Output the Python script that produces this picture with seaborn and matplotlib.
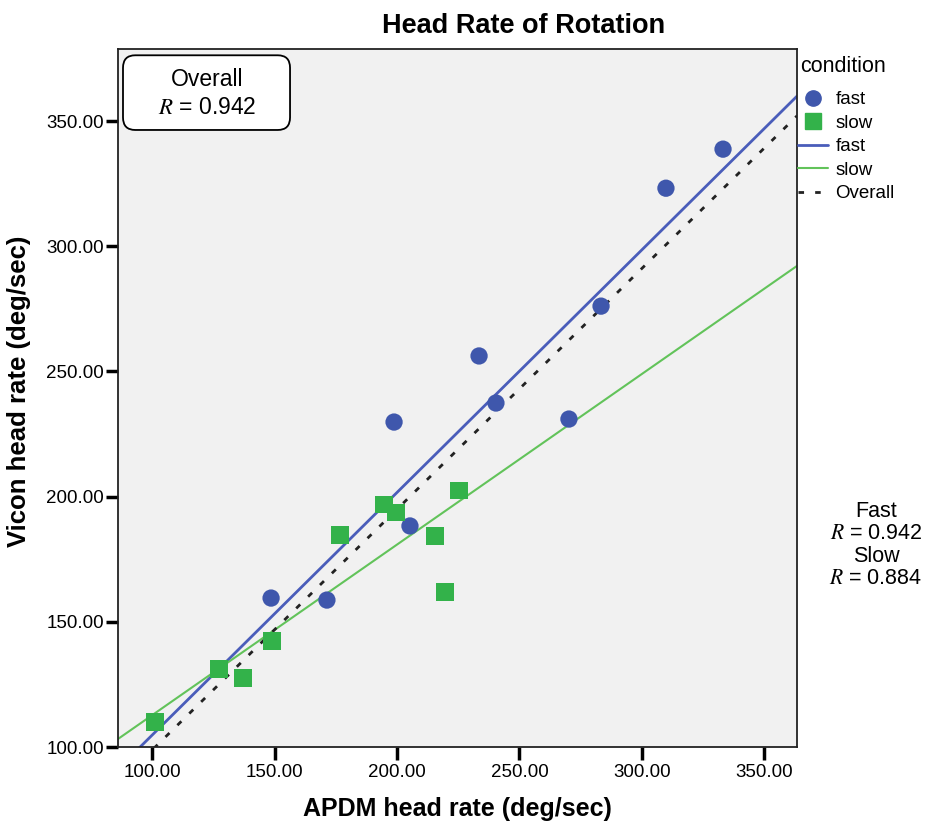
import pandas as pd
import seaborn as sns
import matplotlib.pyplot as plt
from matplotlib.lines import Line2D
from matplotlib.patches import FancyBboxPatch

# Datos (APDM vs Vicon)
fast_apdm = [148.6, 171.4, 198.8, 205.3, 233.5, 240.4, 270.2, 283.3, 309.8, 333.1]
fast_vicon = [159.5, 158.7, 229.8, 188.3, 256.2, 237.4, 231.0, 276.1, 323.2, 338.8]
slow_apdm = [101.2, 127.3, 137.1, 149.0, 176.7, 194.7, 199.6, 215.5, 219.6, 225.3]
slow_vicon = [110.0, 131.2, 127.6, 142.3, 184.7, 197.0, 193.8, 184.3, 161.9, 202.6]

r_overall = 0.942
r_fast = 0.942
r_slow = 0.884

df = pd.DataFrame({
    'apdm': fast_apdm + slow_apdm,
    'vicon': fast_vicon + slow_vicon,
    'condition': ['fast'] * len(fast_apdm) + ['slow'] * len(slow_apdm),
})

blue = '#3F57AC'
green = '#33B24A'

sns.set_style('ticks')
plt.rcParams['font.family'] = ['Liberation Sans', 'DejaVu Sans']
plt.rcParams['mathtext.fontset'] = 'stix'
plt.rcParams['text.color'] = 'black'
plt.rcParams['axes.labelcolor'] = 'black'

fig = plt.figure(figsize=(9.26, 8.25), dpi=100)
ax = fig.add_axes([0.1274, 0.0945, 0.7333, 0.8461])
ax.set_facecolor('#F1F1F1')
ax.set_xlim(86.1, 363.3)
ax.set_ylim(100, 378.8)

# puntos
sns.scatterplot(data=df, x='apdm', y='vicon', hue='condition', style='condition',
                palette={'fast': blue, 'slow': green},
                markers={'fast': 'o', 'slow': 's'}, s=155, linewidth=0,
                legend=False, ax=ax, zorder=3)

# rectas de regresion
sns.regplot(data=df[df.condition == 'fast'], x='apdm', y='vicon', scatter=False,
            ci=None, truncate=False, color='#4A5DBA', line_kws={'lw': 2}, ax=ax)
sns.regplot(data=df[df.condition == 'slow'], x='apdm', y='vicon', scatter=False,
            ci=None, truncate=False, color='#62C35A', line_kws={'lw': 1.5}, ax=ax)
sns.regplot(data=df, x='apdm', y='vicon', scatter=False, ci=None, truncate=False,
            color='#222222', line_kws={'lw': 2, 'ls': (0, (2, 4))}, ax=ax)

ax.set_xlim(86.1, 363.3)
ax.set_ylim(100, 378.8)
ax.set_xticks([100, 150, 200, 250, 300, 350])
ax.set_yticks([100, 150, 200, 250, 300, 350])
ax.set_xticklabels([f'{v:.2f}' for v in ax.get_xticks()])
ax.set_yticklabels([f'{v:.2f}' for v in ax.get_yticks()])
ax.tick_params(length=9, width=2.5, labelsize=13.5, colors='black', direction='out')
ax.tick_params(axis='y', pad=1)
for sp in ax.spines.values():
    sp.set_linewidth(1.3)
    sp.set_color('#222222')

ax.set_xlabel('APDM head rate (deg/sec)', fontsize=18, fontweight='bold')
ax.set_ylabel('Vicon head rate (deg/sec)', fontsize=18.5, fontweight='bold')
ax.xaxis.set_label_coords(0.5, -0.071)
ax.yaxis.set_label_coords(-0.128, 0.51)
fig.text(524 / 926, 1 - 26 / 825, 'Head Rate of Rotation', fontsize=19.5,
         fontweight='bold', ha='center', va='center')

# caja del R global
ax.add_patch(FancyBboxPatch((0.0074, 0.884), 0.246, 0.107,
                            boxstyle='round,pad=0,rounding_size=0.018',
                            transform=ax.transAxes, fc='white', ec='black',
                            lw=1.3, zorder=5))
ax.text(0.131, 0.936, f'Overall\n$R$ = {r_overall:.3f}', transform=ax.transAxes,
        ha='center', va='center', fontsize=16.5, linespacing=1.3, zorder=6)

fig.text(876 / 926, 1 - 545 / 825,
         f'Fast\n$R$ = {r_fast:.3f}\nSlow\n$R$ = {r_slow:.3f}',
         ha='center', va='center', fontsize=15.5, linespacing=1.1)

fig.text(800 / 926, 1 - 66 / 825, 'condition', fontsize=15.5,
         ha='left', va='center')
handles = [
    Line2D([], [], marker='o', ls='', color=blue, markersize=11),
    Line2D([], [], marker='s', ls='', color=green, markersize=11),
    Line2D([], [], color='#4A5DBA', lw=2),
    Line2D([], [], color='#62C35A', lw=1.5),
    Line2D([], [], color='#222222', lw=2, ls=(0, (2, 4))),
]
leg = fig.legend(handles, ['fast', 'slow', 'fast', 'slow', 'Overall'],
                 loc='upper left', bbox_to_anchor=(798 / 926, 1 - 91 / 825),
                 frameon=False, fontsize=13.5, handlelength=1.6,
                 handletextpad=0.4, labelspacing=0.34, borderaxespad=0,
                 borderpad=0)

fig.savefig('out.png', dpi=100)
